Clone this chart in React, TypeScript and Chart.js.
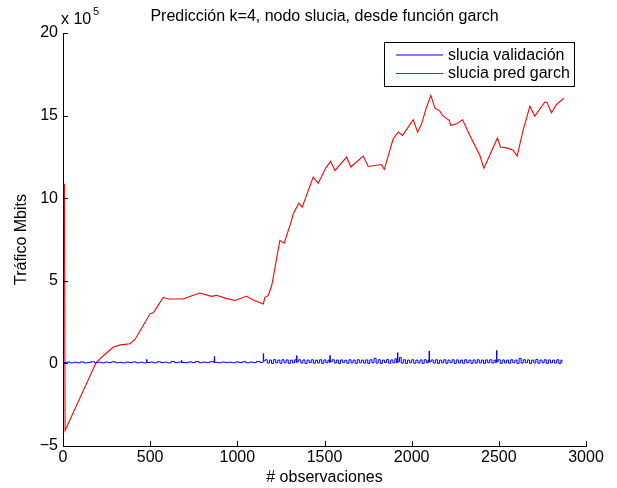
import React, { useEffect, useRef } from "react";
import { Chart, registerables } from "chart.js";

Chart.register(...registerables);

const FONT = '"Liberation Sans", Arial, Helvetica, sans-serif';
const TEXT_SIZE = 16;

const chartTitle = "Predicción k=4, nodo slucia, desde función garch";
const xAxisTitle = "# observaciones";
const yAxisTitle = "Tráfico Mbits";
const yScalePrefix = "x 10";
const yScaleExponent = "5";

const xTicks = [0, 500, 1000, 1500, 2000, 2500, 3000];
const yTicks = [-5, 0, 5, 10, 15, 20];

const validacionLabel = "slucia validación";
const garchLabel = "slucia pred garch";

// GARCH prediction (units of 1e5 Mbits)
const garchObs = [
  8, 12, 190, 230, 289, 330, 384, 413, 460, 499, 518, 545, 575, 604, 690, 740,
  785, 852, 881, 930, 986, 1053, 1091, 1149, 1158, 1177, 1197, 1244, 1269, 1311,
  1321, 1353, 1372, 1435, 1464, 1508, 1535, 1560, 1627, 1651, 1722, 1751, 1789,
  1827, 1843, 1894, 1923, 1948, 2009, 2034, 2057, 2085, 2110, 2133, 2162, 2177,
  2215, 2225, 2257, 2292, 2334, 2391, 2414, 2448, 2477, 2492, 2509, 2553, 2582,
  2605, 2639, 2678, 2706, 2764, 2776, 2802, 2831, 2863, 2872,
];
const garchVal = [
  10.87, -4.06, 0.05, 0.45, 0.99, 1.12, 1.19, 1.45, 2.3, 3.0, 3.07, 3.5, 4.0,
  3.9, 3.9, 4.1, 4.26, 4.06, 4.12, 3.95, 3.81, 4.06, 3.84, 3.6, 4.0, 4.1, 4.7,
  7.45, 7.28, 8.66, 9.06, 9.7, 9.46, 11.28, 10.9, 11.84, 12.23, 11.68, 12.49,
  11.89, 12.55, 11.92, 11.98, 12.04, 11.74, 13.6, 14.0, 13.8, 14.75, 14.0, 14.5,
  15.5, 16.22, 15.47, 15.27, 15.01, 14.71, 14.4, 14.5, 14.75, 13.8, 12.6, 11.82,
  12.6, 13.3, 13.64, 13.1, 13.03, 12.9, 12.55, 14.1, 15.56, 14.97, 15.82, 15.8,
  15.17, 15.68, 15.96, 16.05,
];

// Validation traffic (units of 1e5 Mbits), held between samples
const validacionObs = [
  0, 20, 40, 60, 80, 100, 120, 140, 160, 180, 200, 220, 240, 260, 280, 300, 320,
  340, 360, 380, 400, 420, 440, 460, 478, 480, 482, 500, 520, 540, 560, 580, 600,
  620, 640, 660, 678, 680, 682, 700, 720, 740, 760, 780, 800, 820, 840, 866, 868,
  870, 890, 910, 930, 950, 970, 990, 1010, 1030, 1050, 1070, 1090, 1110, 1130,
  1147, 1149, 1151, 1160, 1172, 1184, 1196, 1208, 1220, 1232, 1244, 1256, 1268,
  1280, 1292, 1304, 1316, 1328, 1338, 1340, 1342, 1352, 1364, 1376, 1388, 1400,
  1412, 1424, 1436, 1448, 1460, 1472, 1484, 1496, 1508, 1520, 1529, 1531, 1533,
  1544, 1556, 1568, 1580, 1592, 1604, 1616, 1628, 1640, 1652, 1664, 1676, 1688,
  1700, 1712, 1724, 1736, 1748, 1760, 1772, 1784, 1796, 1808, 1820, 1832, 1844,
  1856, 1868, 1880, 1892, 1904, 1914, 1917, 1919, 1921, 1930, 1940, 1952, 1964,
  1976, 1988, 2000, 2012, 2024, 2036, 2048, 2060, 2072, 2084, 2094, 2098, 2100,
  2102, 2112, 2124, 2136, 2148, 2160, 2172, 2184, 2196, 2208, 2220, 2232, 2244,
  2256, 2268, 2280, 2292, 2304, 2316, 2328, 2340, 2352, 2364, 2376, 2388, 2400,
  2412, 2424, 2436, 2448, 2460, 2472, 2482, 2485, 2487, 2489, 2496, 2508, 2520,
  2532, 2544, 2556, 2568, 2580, 2592, 2604, 2616, 2628, 2640, 2652, 2664, 2676,
  2688, 2700, 2712, 2724, 2736, 2748, 2760, 2772, 2784, 2796, 2808, 2820, 2832,
  2844, 2856, 2862,
];
const validacionVal = [
  0.05, 0.08, 0.03, 0.07, 0.04, 0.09, 0.03, 0.06, 0.1, 0.04, 0.07, 0.03, 0.08,
  0.05, 0.1, 0.04, 0.06, 0.03, 0.08, 0.05, 0.09, 0.04, 0.07, 0.03, 0.05, 0.24,
  0.05, 0.08, 0.04, 0.1, 0.05, 0.07, 0.03, 0.12, 0.05, 0.08, 0.05, 0.18, 0.06,
  0.04, 0.09, 0.05, 0.12, 0.04, 0.08, 0.05, 0.1, 0.05, 0.42, 0.06, 0.04, 0.08,
  0.05, 0.07, 0.04, 0.09, 0.05, 0.1, 0.04, 0.08, 0.05, 0.12, 0.06, 0.1, 0.59,
  0.15, 0.22, 0.02, 0.2, 0.0, 0.23, 0.03, 0.2, 0.01, 0.22, 0.04, 0.21, 0.0, 0.2,
  0.03, 0.22, 0.05, 0.47, 0.1, 0.22, 0.02, 0.21, 0.0, 0.2, 0.05, 0.22, 0.01,
  0.19, 0.03, 0.22, 0.0, 0.21, 0.04, 0.2, 0.05, 0.48, 0.1, 0.22, 0.02, 0.2, 0.0,
  0.21, 0.05, 0.19, 0.01, 0.22, 0.03, 0.2, 0.0, 0.22, 0.04, 0.2, 0.02, 0.21,
  0.0, 0.22, 0.04, 0.3, 0.02, 0.22, 0.0, 0.2, 0.05, 0.23, 0.01, 0.21, 0.03,
  0.28, 0.02, 0.1, 0.65, 0.1, 0.35, 0.02, 0.22, 0.0, 0.2, 0.04, 0.22, 0.01, 0.2,
  0.03, 0.21, 0.0, 0.22, 0.04, 0.2, 0.05, 0.75, 0.1, 0.21, 0.02, 0.22, 0.0, 0.2,
  0.03, 0.22, 0.01, 0.2, 0.04, 0.22, 0.0, 0.21, 0.03, 0.2, 0.01, 0.22, 0.04,
  0.2, 0.0, 0.21, 0.02, 0.22, 0.03, 0.2, 0.0, 0.21, 0.04, 0.22, 0.02, 0.2, 0.03,
  0.1, 0.79, 0.1, 0.22, 0.0, 0.21, 0.03, 0.2, 0.01, 0.22, 0.04, 0.2, 0.0, 0.3,
  0.02, 0.22, 0.04, 0.21, 0.0, 0.2, 0.03, 0.24, 0.01, 0.2, 0.04, 0.22, 0.0,
  0.21, 0.03, 0.2, 0.02, 0.22, 0.0, 0.2, 0.05,
];

const BLUE = "#0000ff";
const RED = "#ff0000";

// Inward tick marks, title, exponent marker and boxed legend
const decorPlugin = {
  id: "matlabDecor",
  afterDraw(chart: any) {
    const { ctx, chartArea, scales } = chart;
    const xs = scales.x;
    const ys = scales.y;
    ctx.save();
    ctx.strokeStyle = "#000";
    ctx.lineWidth = 1;
    ctx.beginPath();
    for (const v of xTicks) {
      const px = Math.round(xs.getPixelForValue(v)) + 0.5;
      ctx.moveTo(px, chartArea.bottom);
      ctx.lineTo(px, chartArea.bottom - 5);
    }
    for (const v of yTicks) {
      const py = Math.round(ys.getPixelForValue(v)) + 0.5;
      ctx.moveTo(chartArea.left, py);
      ctx.lineTo(chartArea.left + 5, py);
    }
    ctx.stroke();

    ctx.fillStyle = "#000";
    ctx.font = `${TEXT_SIZE}px ${FONT}`;
    ctx.textBaseline = "alphabetic";
    ctx.textAlign = "center";
    ctx.fillText(chartTitle, (chartArea.left + chartArea.right) / 2, 21);

    ctx.textAlign = "left";
    ctx.fillText(yScalePrefix, 61, 24);
    ctx.font = `11px ${FONT}`;
    ctx.fillText(yScaleExponent, 93, 15);

    // legend box
    const bx = 384.5, by = 42.5, bw = 190, bh = 44;
    ctx.fillStyle = "#fff";
    ctx.fillRect(bx, by, bw, bh);
    ctx.strokeStyle = "#000";
    ctx.strokeRect(bx, by, bw, bh);
    const entries = [
      { label: validacionLabel, color: BLUE, y: 55 },
      { label: garchLabel, color: RED, y: 73.5 },
    ];
    ctx.font = `${TEXT_SIZE}px ${FONT}`;
    ctx.textBaseline = "middle";
    for (const e of entries) {
      ctx.strokeStyle = e.color;
      ctx.beginPath();
      ctx.moveTo(396, e.y);
      ctx.lineTo(443, e.y);
      ctx.stroke();
      ctx.fillStyle = "#000";
      ctx.fillText(e.label, 448, e.y + 0.5);
    }
    ctx.restore();
  },
};

export default function App() {
  const canvasRef = useRef<HTMLCanvasElement | null>(null);

  useEffect(() => {
    const canvas = canvasRef.current;
    if (!canvas) return;
    const validacion = validacionObs.map((x, i) => ({ x, y: validacionVal[i] }));
    const garch = garchObs.map((x, i) => ({ x, y: garchVal[i] }));
    const font = { family: FONT, size: TEXT_SIZE };
    const chart = new Chart(canvas, {
      type: "line",
      data: {
        datasets: [
          {
            label: validacionLabel,
            data: validacion,
            borderColor: BLUE,
            borderWidth: 1,
            pointRadius: 0,
            stepped: true,
            fill: false,
          },
          {
            label: garchLabel,
            data: garch,
            borderColor: RED,
            borderWidth: 1.1,
            pointRadius: 0,
            tension: 0,
            fill: false,
          },
        ],
      },
      options: {
        responsive: false,
        maintainAspectRatio: false,
        devicePixelRatio: 1,
        animation: false,
        layout: { padding: { top: 33, right: 31, left: 0, bottom: 0 } },
        plugins: {
          legend: { display: false },
          title: { display: false },
          tooltip: { enabled: false },
        },
        scales: {
          x: {
            type: "linear",
            min: 0,
            max: 3000,
            afterFit: (s: any) => {
              s.height = 42;
            },
            afterBuildTicks: (s: any) => {
              s.ticks = xTicks.map((v) => ({ value: v }));
            },
            ticks: {
              color: "#000",
              font,
              padding: 2,
              maxRotation: 0,
              autoSkip: false,
              callback: (v: any) => String(v),
            },
            grid: { display: false, drawTicks: false },
            border: { display: true, color: "#000", width: 1 },
            title: {
              display: true,
              text: xAxisTitle,
              color: "#000",
              font,
              padding: { top: 0, bottom: 1 },
            },
          },
          y: {
            type: "linear",
            min: -5,
            max: 20,
            afterFit: (s: any) => {
              s.width = 63;
            },
            afterBuildTicks: (s: any) => {
              s.ticks = yTicks.map((v) => ({ value: v }));
            },
            ticks: {
              color: "#000",
              font,
              padding: 5,
              autoSkip: false,
              callback: (v: any) => (v < 0 ? "\u2212" + Math.abs(v) : String(v)),
            },
            grid: { display: false, drawTicks: false },
            border: { display: true, color: "#000", width: 1 },
            title: {
              display: true,
              text: yAxisTitle,
              color: "#000",
              font,
              padding: { top: 12, bottom: 0 },
            },
          },
        },
      },
      plugins: [decorPlugin],
    });
    return () => chart.destroy();
  }, []);

  return (
    <div style={{ position: "fixed", left: 0, top: 0, width: 617, height: 488, background: "#fff" }}>
      <canvas ref={canvasRef} width={617} height={488} style={{ display: "block", width: 617, height: 488 }} />
    </div>
  );
}
